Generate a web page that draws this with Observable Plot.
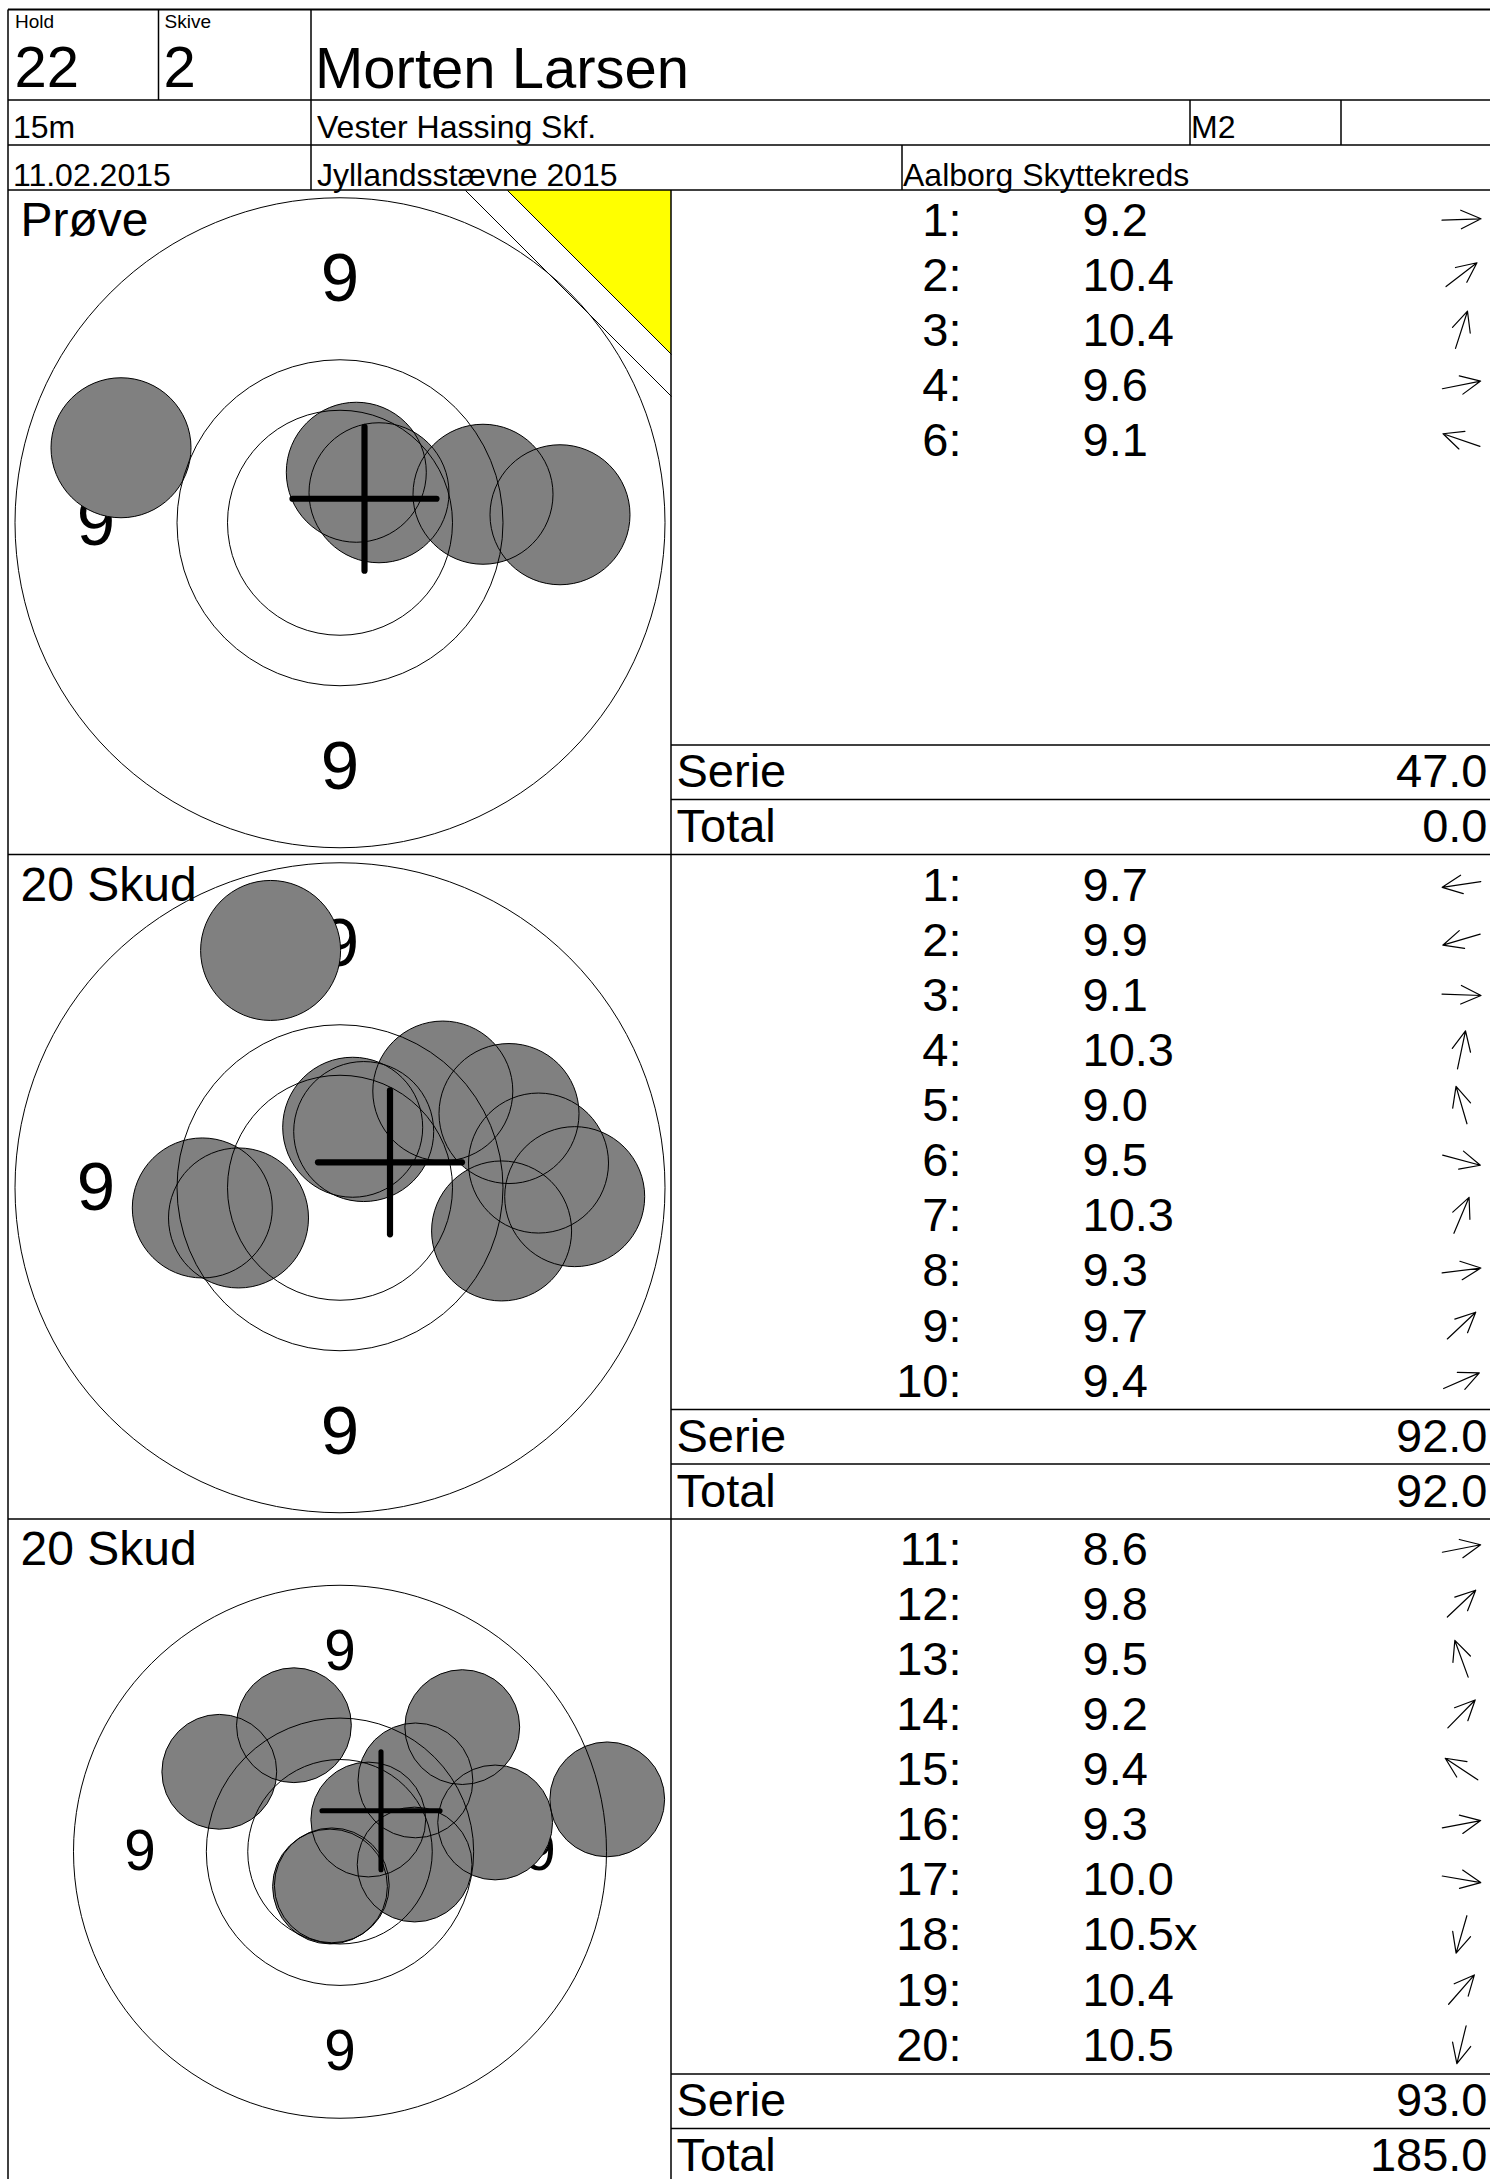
<!DOCTYPE html>
<html><head><meta charset="utf-8">
<script src="https://cdn.jsdelivr.net/npm/d3@7"></script>
<script src="https://cdn.jsdelivr.net/npm/@observablehq/plot@0.6"></script>
<style>
html,body{margin:0;padding:0;background:#fff;}
#page{position:relative;width:1490px;height:2179px;overflow:hidden;font-family:"Liberation Sans",Arial,Helvetica,sans-serif;background:#fff;}
.panel{position:absolute;}
</style></head><body><div id="page"></div>
<script>
// ---------- header data ----------
const headerSmall = ["Hold", "Skive"];
const headerBig = ["22", "2"];
const shooterName = "Morten Larsen";
const rowTwo = ["15m", "Vester Hassing Skf.", "M2"];
const rowThree = ["11.02.2015", "Jyllandsstævne 2015", "Aalborg Skyttekreds"];

// ---------- series ----------
const seriesNames = ["Prøve", "20 Skud", "20 Skud"];
const serieSums = ["47.0", "92.0", "93.0"];
const runningTotals = ["0.0", "92.0", "185.0"];

// shots (target units, y up)
const proveNo = [1, 2, 3, 4, 6];
const proveScore = ["9.2", "10.4", "10.4", "9.6", "9.1"];
const proveX = [22.0, 3.9, 1.63, 14.3, -21.9];
const proveY = [0.8, 3.0, 5.05, 2.85, 7.5];

const serie1No = [1, 2, 3, 4, 5, 6, 7, 8, 9, 10];
const serie1Score = ["9.7", "9.9", "9.1", "10.3", "9.0", "9.5", "10.3", "9.3", "9.7", "9.4"];
const serie1X = [-13.77, -10.15, 23.47, 1.27, -6.94, 16.16, 2.37, 19.85, 10.28, 16.9];
const serie1Y = [-2.02, -3.02, -0.89, 6.05, 23.73, -4.32, 5.62, 2.47, 9.67, 7.42];

const serie2No = [11, 12, 13, 14, 15, 16, 17, 18, 19, 20];
const serie2Score = ["8.6", "9.8", "9.5", "9.2", "9.4", "9.3", "10.0", "10.5x", "10.4", "10.5"];
const serie2X = [32.59, 9.2, -5.62, 14.91, -14.72, 18.92, 9.1, -1.22, 3.45, -1.0];
const serie2Y = [6.39, 8.7, 15.43, 15.2, 9.75, 3.57, -1.56, -4.24, 3.93, -4.1];

// group centre cross for each target
const crossX = [2.45, 5.0, 5.0];
const crossY = [2.4, 2.54, 5.0];

// target geometry (units)
const ringRadii = [32.5, 16.3, 11.25];
const ringLabel = "9";
const shotRadius = 7.0;
const crossHalf = 7.2;
const targetZoom = [10, 10, 8.2]; // pixels per unit in each panel

// ---------- layout ----------
const FONT = '"Liberation Sans", Arial, Helvetica, sans-serif';
const sectionTops = [190, 854.5, 1519];
const sectionH = 664.5;
const leftX = 8, midX = 671, pageW = 1490, pageH = 2179;

const makeShots = (no, sc, xs, ys) => no.map((n, i) => ({no: n, score: sc[i], x: xs[i], y: ys[i]}));
const allShots = [
  makeShots(proveNo, proveScore, proveX, proveY),
  makeShots(serie1No, serie1Score, serie1X, serie1Y),
  makeShots(serie2No, serie2Score, serie2X, serie2Y)
];

const page = document.getElementById("page");

function targetPlot(k) {
  const W = midX - leftX, H = sectionH, s = targetZoom[k];
  const hx = W / 2 / s, hy = H / 2 / s;
  const shots = allShots[k];
  const L = (ringRadii[0] + ringRadii[1]) / 2;
  const labels = [[0, L], [-L, 0], [0, -L], [L, 0]].map(([x, y]) => ({x, y}));
  const marks = [];
  if (k === 0) {
    const tri = 16.4, band = 20.6;
    marks.push(Plot.areaY([{x: hx - tri, y1: hy, y2: hy}, {x: hx, y1: hy, y2: hy - tri}],
      {x: "x", y1: "y1", y2: "y2", fill: "#ffff00"}));
    marks.push(Plot.link([{a: tri}, {a: band}], {x1: d => hx - d.a, y1: hy, x2: hx, y2: d => hy - d.a, stroke: "black", strokeWidth: 1}));
  }
  marks.push(
    Plot.text([seriesNames[k]], {frameAnchor: "top-left", dx: 12, dy: 45, text: d => d, textAnchor: "start", lineAnchor: "bottom", fontSize: 48, fill: "black"}),
    Plot.text(labels, {x: "x", y: "y", text: () => ringLabel, fontSize: 6.9 * s, fill: "black", lineAnchor: "middle"}),
    Plot.dot(shots, {x: "x", y: "y", r: () => shotRadius, fill: "#808080", stroke: "none", sort: null}),
    Plot.dot(ringRadii, {x: 0, y: 0, r: d => d, fill: "none", stroke: "black", strokeWidth: 1, sort: null}),
    Plot.dot(shots, {x: "x", y: "y", r: () => shotRadius, fill: "none", stroke: "black", strokeWidth: 1, sort: null}),
    Plot.link([k], {x1: i => crossX[i] - crossHalf, x2: i => crossX[i] + crossHalf, y1: i => crossY[i], y2: i => crossY[i], stroke: "black", strokeWidth: 0.62 * s, strokeLinecap: "round"}),
    Plot.link([k], {x1: i => crossX[i], x2: i => crossX[i], y1: i => crossY[i] - crossHalf, y2: i => crossY[i] + crossHalf, stroke: "black", strokeWidth: 0.62 * s, strokeLinecap: "round"})
  );
  return Plot.plot({
    width: W, height: H, margin: 0,
    x: {domain: [-hx, hx], axis: null},
    y: {domain: [-hy, hy], axis: null},
    r: {type: "linear", domain: [0, 1], range: [0, s]},
    style: {fontFamily: FONT, background: "transparent", maxWidth: "none", overflow: "visible"},
    marks
  });
}

const arrowShape = {
  draw(context, l) {
    const hl = 22, ha = 25 * Math.PI / 180;
    context.moveTo(0, 0);
    context.lineTo(0, -l);
    context.moveTo(-hl * Math.sin(ha), -l + hl * Math.cos(ha));
    context.lineTo(0, -l);
    context.lineTo(hl * Math.sin(ha), -l + hl * Math.cos(ha));
  }
};

function tablePlot(k) {
  const W = pageW - midX, H = sectionH;
  const rows = allShots[k].map((d, i) => ({
    row: i, label: d.no + ":", score: d.score,
    rot: 90 - Math.atan2(d.y, d.x) * 180 / Math.PI
  }));
  const sums = [{row: 10, label: "Serie", value: serieSums[k]}, {row: 11, label: "Total", value: runningTotals[k]}];
  return Plot.plot({
    width: W, height: H, margin: 0,
    y: {domain: [0, 11], range: [45, 651.5], axis: null},
    style: {fontFamily: FONT, background: "transparent", maxWidth: "none", overflow: "visible"},
    marks: [
      Plot.text(rows, {y: "row", text: "label", frameAnchor: "left", dx: 290, textAnchor: "end", lineAnchor: "bottom", fontSize: 47, fill: "black"}),
      Plot.text(rows, {y: "row", text: "score", frameAnchor: "left", dx: 411, textAnchor: "start", lineAnchor: "bottom", fontSize: 47, fill: "black"}),
      Plot.vector(rows, {y: "row", frameAnchor: "left", dx: 790, dy: -16, rotate: "rot", length: 39, anchor: "middle", shape: arrowShape, stroke: "black", strokeWidth: 1.2}),
      Plot.text(sums, {y: "row", text: "label", frameAnchor: "left", dx: 5, textAnchor: "start", lineAnchor: "bottom", fontSize: 47, fill: "black"}),
      Plot.text(sums, {y: "row", text: "value", frameAnchor: "right", dx: -3, textAnchor: "end", lineAnchor: "bottom", fontSize: 47, fill: "black"})
    ]
  });
}

sectionTops.forEach((top, k) => {
  const a = document.createElement("div");
  a.className = "panel"; a.style.left = leftX + "px"; a.style.top = top + "px";
  a.appendChild(targetPlot(k));
  page.appendChild(a);
  const b = document.createElement("div");
  b.className = "panel"; b.style.left = midX + "px"; b.style.top = top + "px";
  b.appendChild(tablePlot(k));
  page.appendChild(b);
});

// ---------- frame lines and header text ----------
const svg = d3.select(page).append("svg")
  .attr("width", pageW).attr("height", pageH)
  .style("position", "absolute").style("left", 0).style("top", 0).style("pointer-events", "none")
  .attr("font-family", FONT);

const hLines = [
  [9.5, leftX, pageW, 2], [100, leftX, pageW, 1.5], [145, leftX, pageW, 1.5], [190, leftX, pageW, 1.5],
  [854.5, leftX, pageW, 1.5], [1519, leftX, pageW, 1.5]
];
sectionTops.forEach(t => { hLines.push([t + 555, midX, pageW, 1.5]); hLines.push([t + 609.5, midX, pageW, 1.5]); });
const vLines = [
  [leftX, 9.5, pageH], [158.5, 9.5, 100], [311, 9.5, 190], [1190, 100, 145], [1341, 100, 145], [902, 145, 190], [midX, 190, pageH]
];
svg.selectAll("line.h").data(hLines).join("line").attr("class", "h")
  .attr("x1", d => d[1]).attr("x2", d => d[2]).attr("y1", d => d[0]).attr("y2", d => d[0])
  .attr("stroke", "black").attr("stroke-width", d => d[3]);
svg.selectAll("line.v").data(vLines).join("line").attr("class", "v")
  .attr("x1", d => d[0]).attr("x2", d => d[0]).attr("y1", d => d[1]).attr("y2", d => d[2])
  .attr("stroke", "black").attr("stroke-width", 1.5);

const headerTexts = [
  {t: headerSmall[0], x: 15, y: 28, s: 19},
  {t: headerSmall[1], x: 164.5, y: 28, s: 19},
  {t: headerBig[0], x: 14.5, y: 87, s: 58},
  {t: headerBig[1], x: 163.5, y: 87, s: 58},
  {t: shooterName, x: 315, y: 88, s: 58},
  {t: rowTwo[0], x: 13, y: 138, s: 32},
  {t: rowTwo[1], x: 317, y: 138, s: 32},
  {t: rowTwo[2], x: 1191, y: 138, s: 32},
  {t: rowThree[0], x: 13, y: 186, s: 32},
  {t: rowThree[1], x: 317, y: 186, s: 32},
  {t: rowThree[2], x: 903, y: 186, s: 32}
];
svg.selectAll("text").data(headerTexts).join("text")
  .attr("x", d => d.x).attr("y", d => d.y).attr("font-size", d => d.s).attr("fill", "black")
  .text(d => d.t);
</script></body></html>
